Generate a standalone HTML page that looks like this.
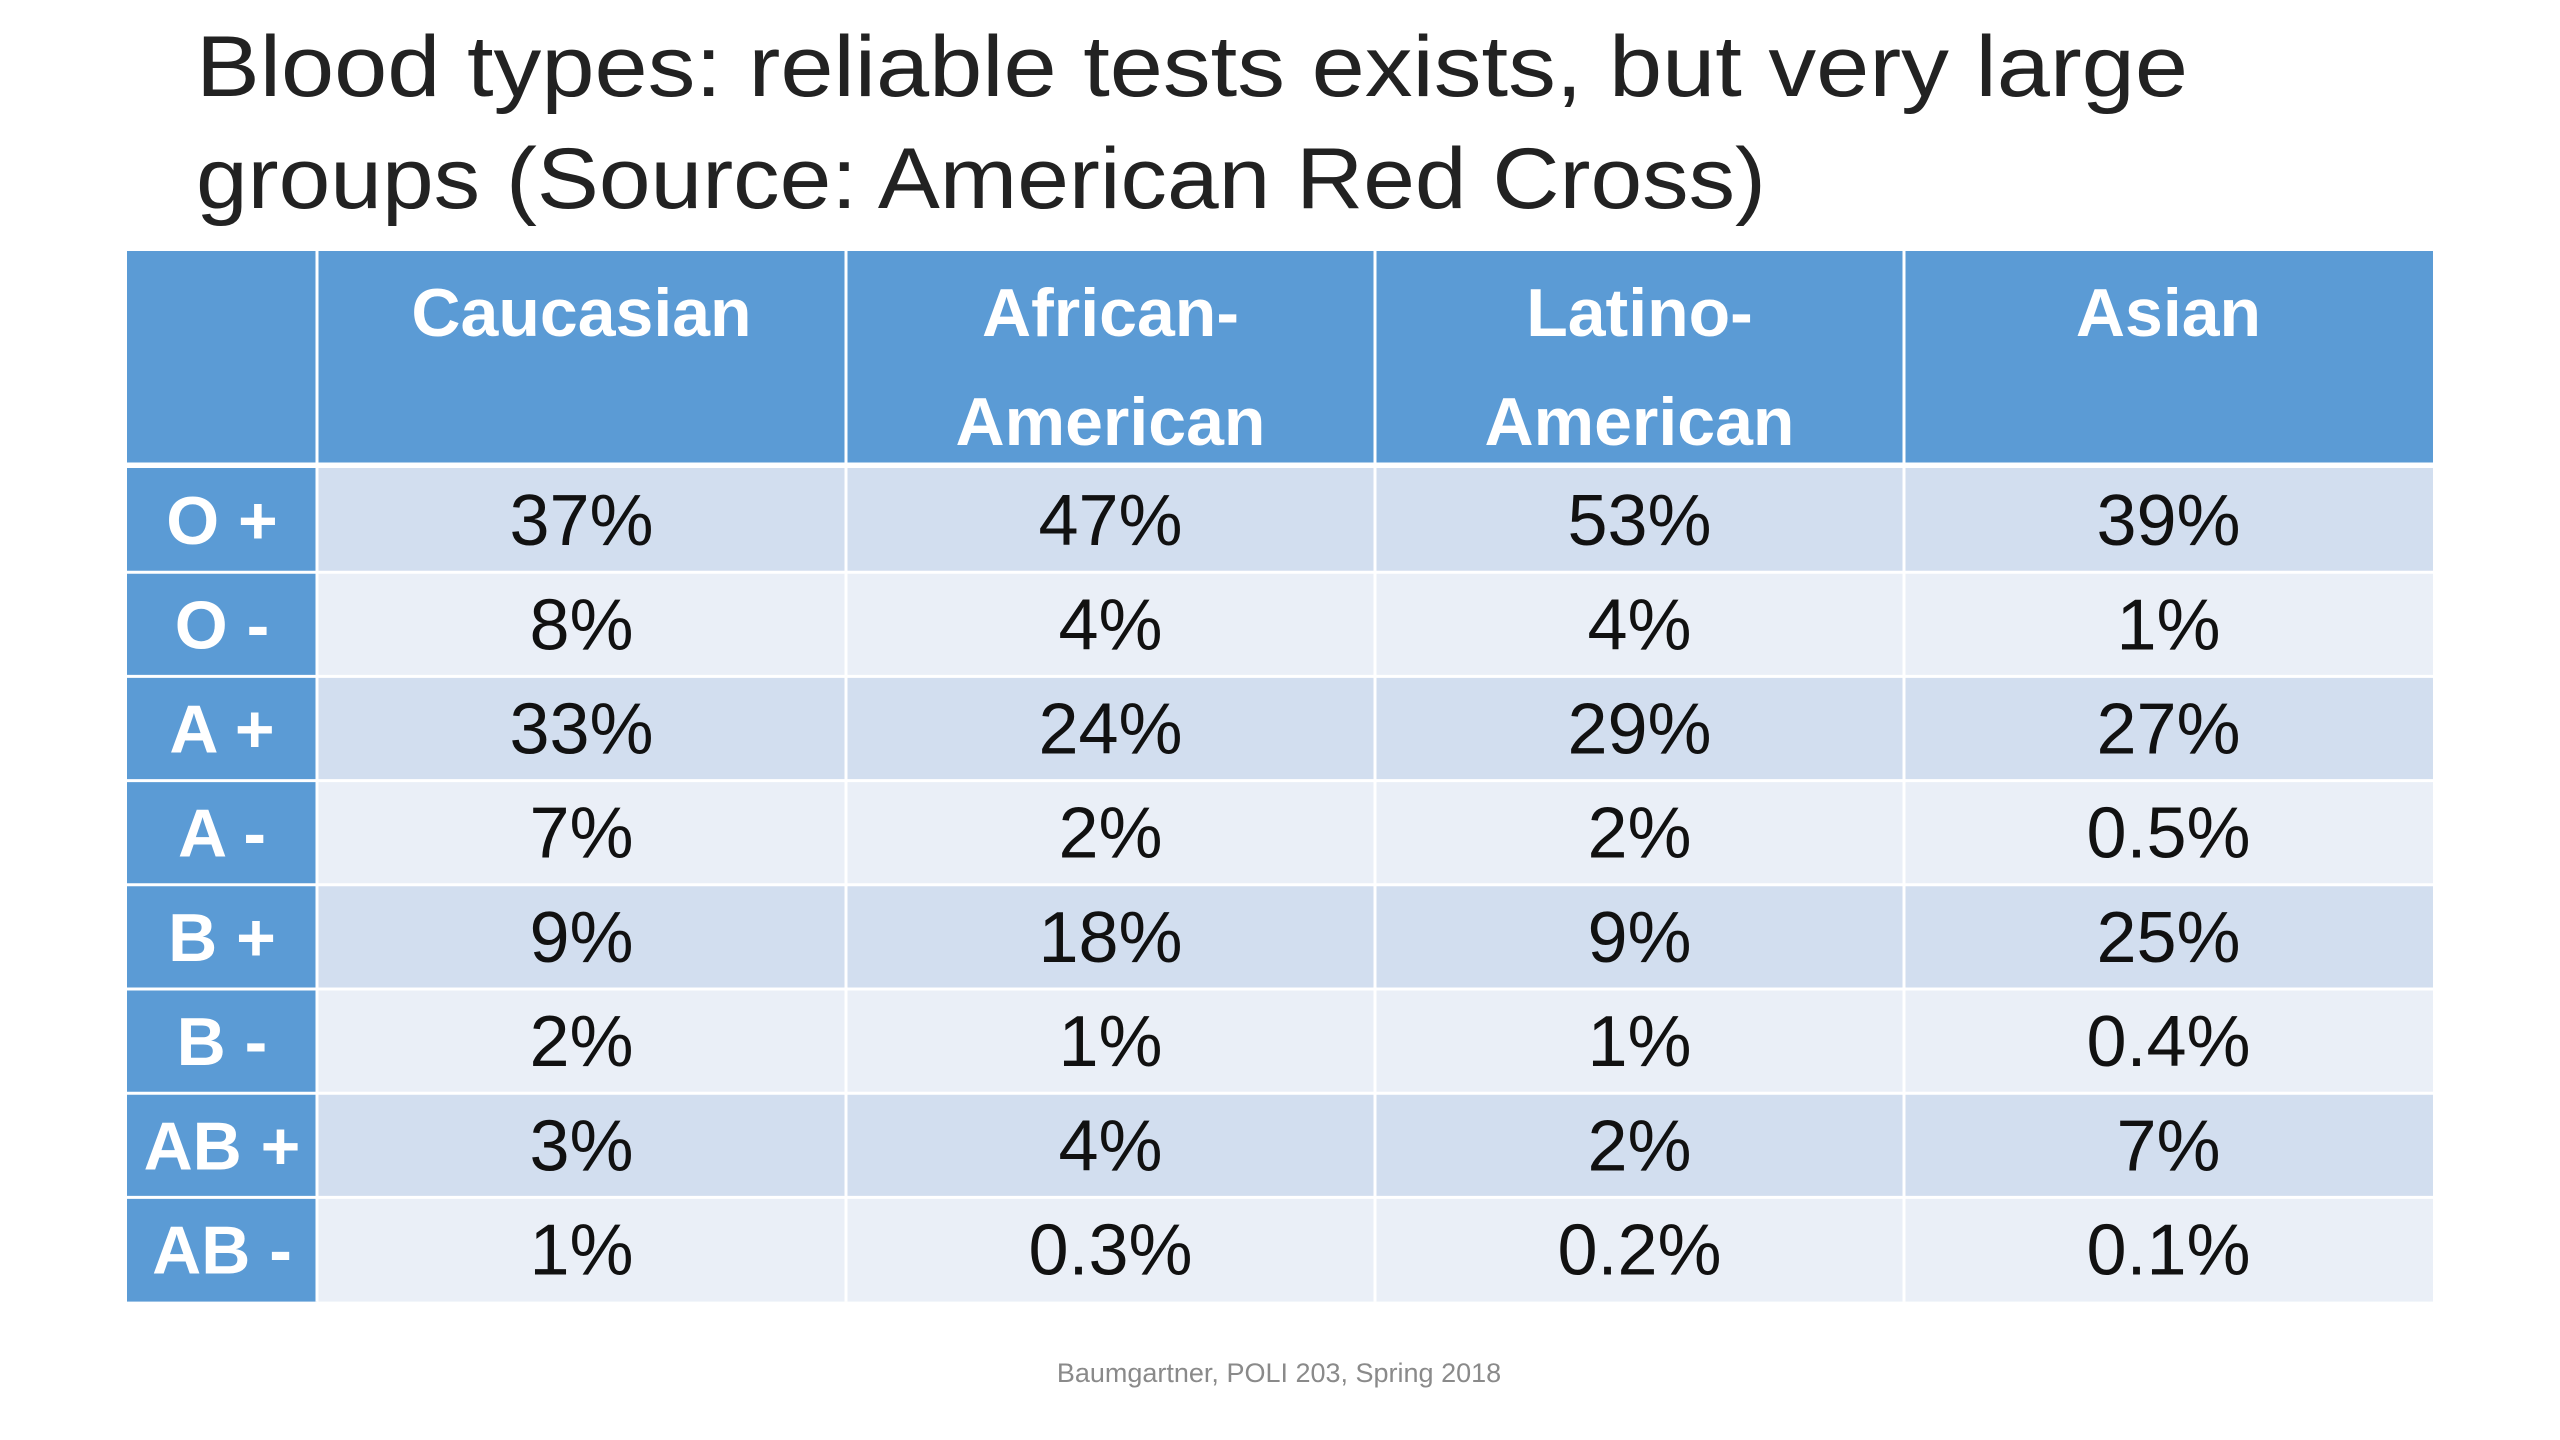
<!DOCTYPE html>
<html><head><meta charset="utf-8"><style>
html,body{margin:0;padding:0;background:#fff;}
svg{display:block;font-family:"Liberation Sans",sans-serif;}
</style></head><body>
<svg width="2560" height="1440" viewBox="0 0 2560 1440">
<text x="196" y="96" font-size="86" fill="#222" textLength="1992" lengthAdjust="spacingAndGlyphs">Blood types: reliable tests exists, but very large</text>
<text x="196" y="208" font-size="86" fill="#222" textLength="1570" lengthAdjust="spacingAndGlyphs">groups (Source: American Red Cross)</text>
<g id="tbl"></g>
<text x="1279" y="1382" font-size="27" fill="#8a8a8a" text-anchor="middle">Baumgartner, POLI 203, Spring 2018</text>
</svg>
<script>
const groups = [["Caucasian"],["African-","American"],["Latino-","American"],["Asian"]];
const bloodTypes = ["O +","O -","A +","A -","B +","B -","AB +","AB -"];
const caucasian = ["37%","8%","33%","7%","9%","2%","3%","1%"];
const africanAmerican = ["47%","4%","24%","2%","18%","1%","4%","0.3%"];
const latinoAmerican = ["53%","4%","29%","2%","9%","1%","2%","0.2%"];
const asian = ["39%","1%","27%","0.5%","25%","0.4%","7%","0.1%"];
const columns = [caucasian, africanAmerican, latinoAmerican, asian];

const NS="http://www.w3.org/2000/svg";
const g=document.getElementById('tbl');
const colX=[127,317,846,1375,1904,2433];
const tableTop=251, headH=212, rowH=104.2;
function rect(x,y,w,h,fill,name){const r=document.createElementNS(NS,'rect');
r.setAttribute('x',x);r.setAttribute('y',y);r.setAttribute('width',w);r.setAttribute('height',h);r.setAttribute('fill',fill);


g.appendChild(r);return r;}
function txt(x,y,s,size,fill,bold,name){const t=document.createElementNS(NS,'text');
t.setAttribute('x',x);t.setAttribute('y',y);t.setAttribute('font-size',size);t.setAttribute('fill',fill);
t.setAttribute('text-anchor','middle');if(bold)t.setAttribute('font-weight','bold');t.textContent=s;


g.appendChild(t);}
rect(colX[0],tableTop,colX[5]-colX[0],headH,'#5B9BD5','header-row');
groups.forEach((lines,i)=>{const cx=(colX[i+1]+colX[i+2])/2;
lines.forEach((l,j)=>txt(cx,tableTop+85+j*109,l,68,'#fff',true,'column-header'));});
const y0=tableTop+headH+5;
bloodTypes.forEach((bt,r)=>{const y=y0+r*rowH;
rect(colX[0],y,colX[1]-colX[0],rowH,'#5B9BD5','row-header-cell');
rect(colX[1],y,colX[5]-colX[1],rowH,r%2?'#EAEFF7':'#D2DEEF','data-row');
txt((colX[0]+colX[1])/2,y+rowH*0.73,bt,68,'#fff',true,'blood-type-label');
columns.forEach((col,c)=>txt((colX[c+1]+colX[c+2])/2,y+rowH*0.74,col[r],72,'#111',false,'percentage-cell'));});
function line(x1,y1,x2,y2,w,name){const l=document.createElementNS(NS,'line');
l.setAttribute('x1',x1);l.setAttribute('y1',y1);l.setAttribute('x2',x2);l.setAttribute('y2',y2);
l.setAttribute('stroke','#fff');l.setAttribute('stroke-width',w);


g.appendChild(l);}
for(let i=1;i<5;i++)line(colX[i],tableTop,colX[i],y0+8*rowH,3,'column-divider');
line(colX[0],tableTop+headH+2,colX[5],tableTop+headH+2,5,'header-divider');
for(let r=1;r<8;r++)line(colX[0],y0+r*rowH,colX[5],y0+r*rowH,3,'row-divider');
</script>
</body></html>
